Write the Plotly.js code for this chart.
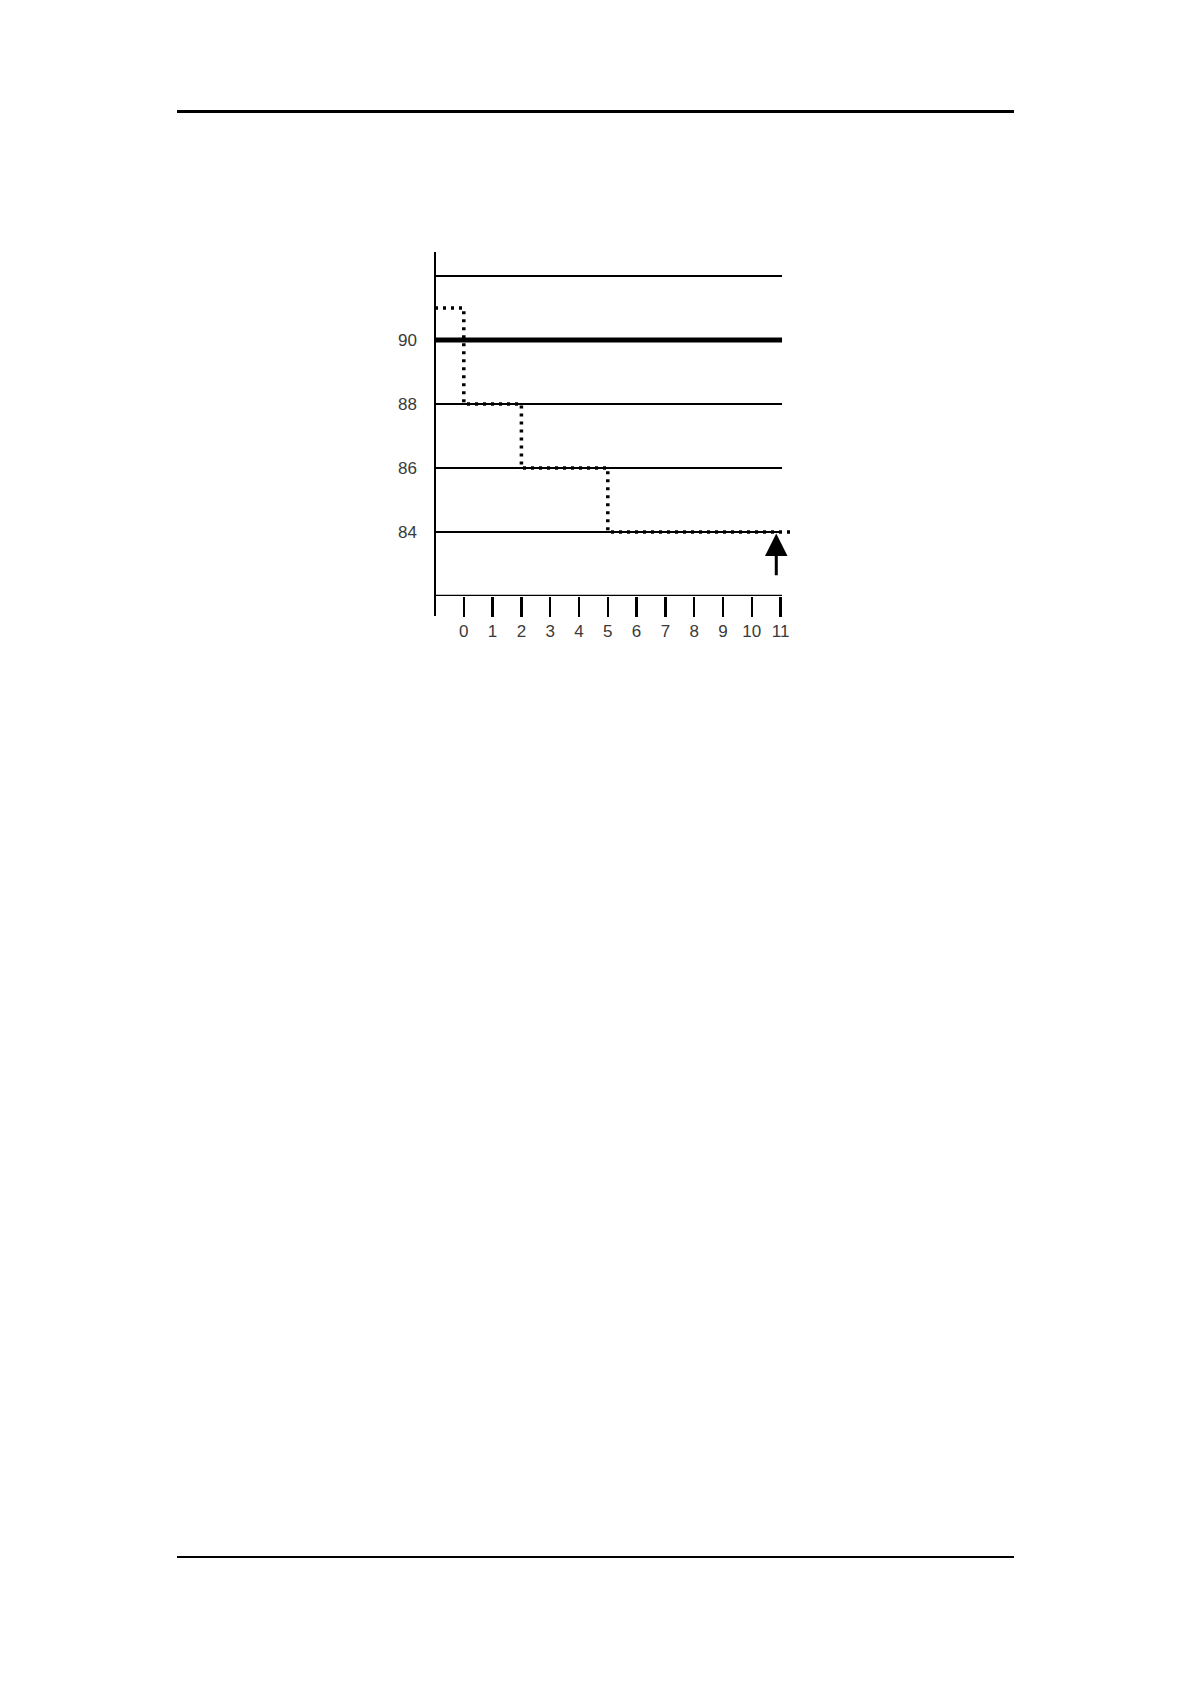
<!DOCTYPE html>
<html>
<head>
<meta charset="utf-8">
<script src="https://cdn.plot.ly/plotly-3.0.1.min.js"></script>
<style>
    body { margin: 0; background: #ffffff; }
    #page { position: relative; width: 1190px; height: 1684px; }
    #chart { position: absolute; left: 0; top: 0; width: 1190px; height: 1684px; }
    .rule { position: absolute; left: 177px; width: 837px; background: #000; }
</style>
</head>
<body>
<div id="page">
    <div id="chart"></div>
    <div class="rule" style="top:110px; height:3px;"></div>
    <div class="rule" style="top:1556px; height:1.5px;"></div>
</div>
<script>
// Step trend (seconds vs SpO2 %)
const timeSteps = [-1, 0, 2, 5, 11.35];
const spo2Values = [91, 88, 86, 84, 84];

// Axis ticks
const xTicks = [0, 1, 2, 3, 4, 5, 6, 7, 8, 9, 10, 11];
const yTicks = [84, 86, 88, 90];

// Horizontal reference lines
const gridValues = [84, 86, 88, 92];
const alarmLimit = 90;
const axisBase = 82;

// Arrow marker
const arrowX = 10.85;
const arrowTip = 83.95;
const arrowTail = 82.6;

const xStart = -1;
const xEnd = 11.05;

const lineShape = (y, width) => ({
    type: 'line', xref: 'x', yref: 'y',
    x0: xStart, x1: xEnd, y0: y, y1: y,
    line: { color: '#000', width: width },
    layer: 'below'
});

const shapes = gridValues.map(v => lineShape(v, 2))
    .concat([lineShape(alarmLimit, 5), lineShape(axisBase, 2.5)])
    .concat([{
        type: 'line', xref: 'paper', yref: 'paper',
        x0: 0, x1: 0, y0: -0.058, y1: 1,
        line: { color: '#000', width: 2 }
    }]);

const trace = {
    x: timeSteps,
    y: spo2Values,
    type: 'scatter',
    mode: 'lines',
    line: { color: '#000', width: 3.5, shape: 'hv', dash: '3px,5px' },
    cliponaxis: false,
    hoverinfo: 'skip'
};

const layout = {
    width: 1190,
    height: 1684,
    paper_bgcolor: '#ffffff',
    plot_bgcolor: '#ffffff',
    showlegend: false,
    margin: { l: 435, r: 395, t: 252, b: 1088, pad: 0 },
    font: { family: '"Liberation Sans", Arial, sans-serif', size: 17, color: '#3a3a3a' },
    xaxis: {
        range: [xStart, 11.5],
        tickvals: xTicks,
        ticktext: xTicks.map(String),
        ticks: 'outside',
        ticklen: 20,
        tickwidth: 2.5,
        tickcolor: '#000',
        showgrid: false,
        zeroline: false,
        showline: false,
        fixedrange: true
    },
    yaxis: {
        range: [axisBase, 92.75],
        tickvals: yTicks,
        ticktext: yTicks.map(String),
        ticks: '',
        ticklabelstandoff: 17,
        showgrid: false,
        zeroline: false,
        showline: false,
        fixedrange: true
    },
    shapes: shapes,
    annotations: [{
        x: arrowX, y: arrowTip,
        ax: arrowX, ay: arrowTail,
        xref: 'x', yref: 'y', axref: 'x', ayref: 'y',
        text: '',
        showarrow: true,
        arrowhead: 2,
        arrowsize: 1.5,
        arrowwidth: 3,
        arrowcolor: '#000'
    }]
};

Plotly.newPlot('chart', [trace], layout, { displayModeBar: false, staticPlot: true });
</script>
</body>
</html>
